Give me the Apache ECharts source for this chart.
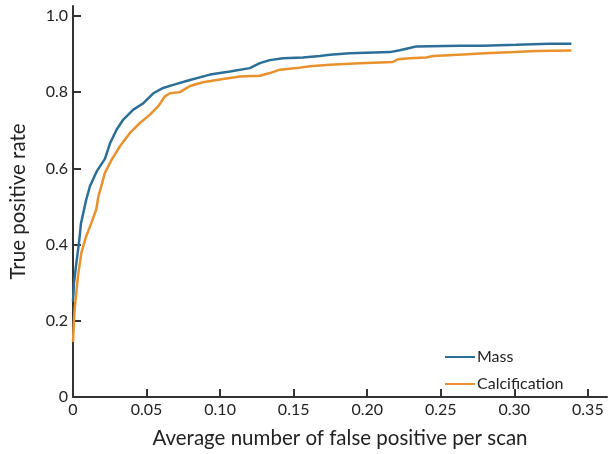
<!DOCTYPE html>
<html>
<head>
<meta charset="utf-8">
<script src="https://cdn.jsdelivr.net/npm/echarts@6/dist/echarts.min.js"></script>
<style>
  html, body { margin: 0; padding: 0; background: #fff; }
  #main { width: 609px; height: 454px; }
</style>
</head>
<body>
<div id="main"></div>
<script>
// values
var massX = [0, 0.0007, 0.002, 0.0041, 0.0054, 0.0088, 0.0115, 0.0161, 0.0217, 0.0251, 0.0297, 0.0342, 0.041, 0.0478, 0.0546, 0.0613, 0.0681, 0.0795, 0.0931, 0.1067, 0.1202, 0.127, 0.1338, 0.1427, 0.1563, 0.1678, 0.1746, 0.1882, 0.2154, 0.2221, 0.2289, 0.2335, 0.2629, 0.2785, 0.3014, 0.324, 0.3388];
var massY = [0.25, 0.30, 0.343, 0.406, 0.455, 0.515, 0.553, 0.592, 0.625, 0.665, 0.702, 0.728, 0.754, 0.771, 0.797, 0.811, 0.819, 0.832, 0.846, 0.854, 0.863, 0.876, 0.884, 0.889, 0.891, 0.895, 0.898, 0.902, 0.905, 0.91, 0.916, 0.92, 0.922, 0.922, 0.924, 0.927, 0.927];

var calcX = [0, 0.0005, 0.0011, 0.0034, 0.0057, 0.009, 0.0125, 0.0158, 0.0172, 0.0217, 0.0263, 0.0319, 0.0387, 0.0455, 0.0523, 0.058, 0.0625, 0.0659, 0.0727, 0.0795, 0.0883, 0.0999, 0.1135, 0.127, 0.1338, 0.1406, 0.152, 0.161, 0.1746, 0.195, 0.2174, 0.2208, 0.2289, 0.24, 0.245, 0.265, 0.28, 0.30, 0.315, 0.3388];
var calcY = [0.144, 0.19, 0.23, 0.318, 0.379, 0.422, 0.457, 0.492, 0.525, 0.588, 0.623, 0.658, 0.693, 0.719, 0.741, 0.763, 0.789, 0.797, 0.80, 0.816, 0.826, 0.833, 0.841, 0.843, 0.85, 0.859, 0.863, 0.868, 0.872, 0.876, 0.879, 0.886, 0.889, 0.891, 0.895, 0.899, 0.902, 0.905, 0.908, 0.909];

var xTicks = [0, 0.05, 0.10, 0.15, 0.20, 0.25, 0.30, 0.35];
var xTickLabels = ['0', '0.05', '0.10', '0.15', '0.20', '0.25', '0.30', '0.35'];
var yTicks = [0, 0.2, 0.4, 0.6, 0.8, 1.0];
var yTickLabels = ['0', '0.2', '0.4', '0.6', '0.8', '1.0'];

var seriesNames = ['Mass', 'Calcification'];
var colors = ['#2b6f98', '#e8912d'];

function pairs(xs, ys) {
    var out = [];
    for (var i = 0; i < xs.length; i++) {
        out.push([xs[i], ys[i]]);
    }
    return out;
}

function labelFor(ticks, labels) {
    return function (v) {
        for (var i = 0; i < ticks.length; i++) {
            if (Math.abs(ticks[i] - v) < 1e-6) return labels[i];
        }
        return '';
    };
}

var FONT = 'Lato';
var chart = echarts.init(document.getElementById('main'));

var option = {
    animation: false,
    grid: { left: 73, right: 2, top: 6, bottom: 57, containLabel: false, outerBoundsMode: 'none' },
    legend: {
        data: seriesNames,
        orient: 'vertical',
        left: 440,
        top: 344,
        itemWidth: 30,
        itemHeight: 14,
        itemGap: 11,
        icon: 'path://M0,0 L30,0 L30,2 L0,2 Z',
        textStyle: { fontFamily: FONT, fontSize: 16, color: '#222', padding: [0, 0, 0, -3] }
    },
    xAxis: {
        type: 'value',
        min: 0,
        max: 0.363,
        splitLine: { show: false },
        axisLine: { lineStyle: { color: '#333', width: 2 } },
        axisTick: { inside: true, length: 8, customValues: xTicks, lineStyle: { color: '#333', width: 2 } },
        axisLabel: {
            customValues: xTicks,
            formatter: labelFor(xTicks, xTickLabels),
            fontFamily: FONT, fontSize: 16, color: '#222', margin: 5
        },
        name: 'Average number of false positive per scan',
        nameLocation: 'middle',
        nameGap: 31,
        nameTextStyle: { fontFamily: FONT, fontSize: 20.5, color: '#222' }
    },
    yAxis: {
        type: 'value',
        min: 0,
        max: 1.026,
        splitLine: { show: false },
        axisLine: { show: true, lineStyle: { color: '#333', width: 2 } },
        axisTick: { show: true, inside: true, length: 8, customValues: yTicks, lineStyle: { color: '#333', width: 2 } },
        axisLabel: {
            customValues: yTicks,
            formatter: labelFor(yTicks, yTickLabels),
            fontFamily: FONT, fontSize: 16, color: '#222', margin: 5
        },
        name: 'True positive rate',
        nameLocation: 'middle',
        nameGap: 44,
        nameTextStyle: { fontFamily: FONT, fontSize: 20.5, color: '#222' }
    },
    series: [
        {
            name: seriesNames[0],
            type: 'line',
            data: pairs(massX, massY),
            symbol: 'none',
            color: colors[0],
            lineStyle: { width: 2.5, color: colors[0] }
        },
        {
            name: seriesNames[1],
            type: 'line',
            data: pairs(calcX, calcY),
            symbol: 'none',
            color: colors[1],
            lineStyle: { width: 2.5, color: colors[1] }
        }
    ]
};

chart.setOption(option);
</script>
</body>
</html>
